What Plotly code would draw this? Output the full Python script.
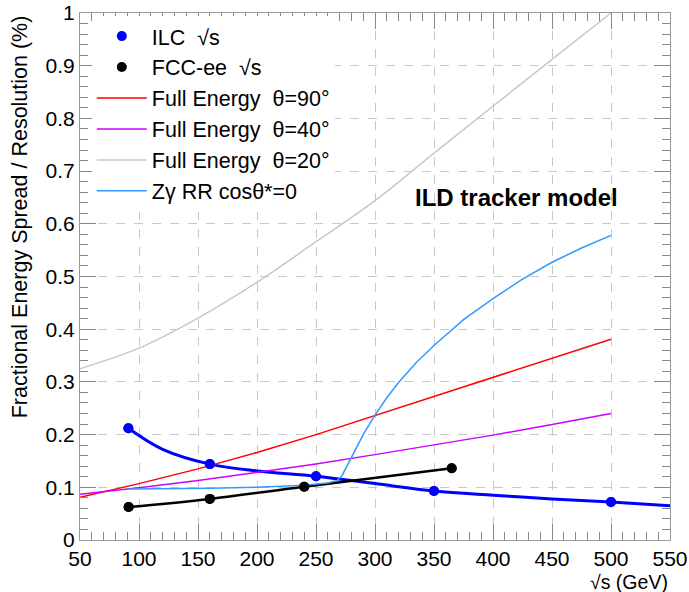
import plotly.graph_objects as go

# ---- data ----
ilc_x = [91, 160, 250, 350, 500]
ilc_y = [0.212, 0.144, 0.121, 0.093, 0.072]
ilc_curve_x = [91, 120, 160, 200, 250, 300, 350, 400, 450, 500, 550]
ilc_curve_y = [0.212, 0.172, 0.144, 0.131, 0.121, 0.107, 0.093, 0.085, 0.078, 0.072, 0.065]

fcc_x = [91.2, 160, 240, 365]
fcc_y = [0.0625, 0.078, 0.101, 0.136]

full_x = [50, 100, 150, 200, 250, 300, 350, 400, 450, 500]
red_y = [0.081, 0.107, 0.135, 0.166, 0.200, 0.236, 0.272, 0.308, 0.344, 0.381]
mag_y = [0.087, 0.099, 0.113, 0.128, 0.144, 0.162, 0.180, 0.199, 0.219, 0.240]
gray_y = [0.325, 0.364, 0.421, 0.489, 0.566, 0.644, 0.734, 0.823, 0.912, 1.0]

zg_x = [91, 120, 160, 200, 240, 260, 268, 272, 280, 290, 300, 310, 320, 335, 350,
        375, 400, 425, 450, 475, 500]
zg_y = [0.097, 0.097, 0.098, 0.100, 0.104, 0.108, 0.113, 0.122, 0.158, 0.200, 0.237,
        0.270, 0.299, 0.337, 0.369, 0.418, 0.458, 0.495, 0.527, 0.554, 0.578]

FONT = "Liberation Sans, Arial, Helvetica, sans-serif"

fig = go.Figure()

# curves (no legend)
fig.add_trace(go.Scatter(x=ilc_curve_x, y=ilc_curve_y, mode="lines",
                         line=dict(color="#0000ff", width=3, shape="spline"),
                         showlegend=False, hoverinfo="skip"))
fig.add_trace(go.Scatter(x=fcc_x, y=fcc_y, mode="lines",
                         line=dict(color="#000000", width=2.5, shape="spline"),
                         showlegend=False, hoverinfo="skip"))

# legend traces
fig.add_trace(go.Scatter(x=ilc_x, y=ilc_y, mode="markers", name="ILC  √s",
                         marker=dict(color="#0000ff", size=10), legendgroup="a"))
fig.add_trace(go.Scatter(x=fcc_x, y=fcc_y, mode="markers", name="FCC-ee  √s",
                         marker=dict(color="#000000", size=10), legendgroup="b"))
fig.add_trace(go.Scatter(x=full_x, y=red_y, mode="lines", name="Full Energy  θ=90°",
                         line=dict(color="#ff0000", width=1.5), legendgroup="c"))
fig.add_trace(go.Scatter(x=full_x, y=mag_y, mode="lines", name="Full Energy  θ=40°",
                         line=dict(color="#cc00ff", width=1.5), legendgroup="d"))
fig.add_trace(go.Scatter(x=full_x, y=gray_y, mode="lines", name="Full Energy  θ=20°",
                         line=dict(color="#c8c8c8", width=1.5, shape="spline"), legendgroup="e"))
fig.add_trace(go.Scatter(x=zg_x, y=zg_y, mode="lines", name="Zγ RR cosθ*=0",
                         line=dict(color="#3399ff", width=1.5),
                         legendgroup="f"))

# re-draw points on top of lines
fig.add_trace(go.Scatter(x=ilc_x, y=ilc_y, mode="markers",
                         marker=dict(color="#0000ff", size=10), showlegend=False))
fig.add_trace(go.Scatter(x=fcc_x, y=fcc_y, mode="markers",
                         marker=dict(color="#000000", size=10), showlegend=False))

axis_common = dict(
    showline=True, linecolor="#999999", linewidth=1, mirror="ticks",
    ticks="inside", ticklen=16, tickcolor="#888888", tickwidth=1,
    showgrid=True, gridcolor="#c8c8c8", griddash="dash", gridwidth=1,
    zeroline=False, automargin=False,
    tickfont=dict(family=FONT, size=21, color="#000000"),
)

fig.update_xaxes(range=[50, 550], dtick=50, tick0=50,
                 minor=dict(dtick=10, ticklen=8, tickcolor="#888888", ticks="inside", showgrid=False),
                 **axis_common)
fig.update_yaxes(range=[0, 1], dtick=0.1, tick0=0,
                 minor=dict(dtick=0.02, ticklen=8, tickcolor="#888888", ticks="inside", showgrid=False),
                 **axis_common)

fig.add_annotation(x=420, y=0.65, xref="x", yref="y", text="<b>ILD tracker model</b>",
                   showarrow=False, font=dict(family=FONT, size=24, color="#000000"),
                   xanchor="center", yanchor="middle")
fig.add_annotation(x=1, y=-0.079, xref="paper", yref="paper", text="√s (GeV)",
                   showarrow=False, font=dict(family=FONT, size=19.5, color="#000000"),
                   xanchor="right", yanchor="middle")
fig.add_annotation(x=-0.102, y=1, xref="paper", yref="paper",
                   text="Fractional Energy Spread / Resolution (%)", textangle=-90,
                   showarrow=False, font=dict(family=FONT, size=21.5, color="#000000"),
                   xanchor="center", yanchor="top")

fig.update_layout(
    width=689, height=592,
    margin=dict(l=80, r=19, t=13, b=52, autoexpand=False),
    paper_bgcolor="white", plot_bgcolor="white",
    showlegend=True,
    legend=dict(x=0.02, y=0.995, xanchor="left", yanchor="top",
                font=dict(family=FONT, size=21.5, color="#000000"),
                bgcolor="rgba(255,255,255,1)", borderwidth=0,
                tracegroupgap=0, itemwidth=50),
)

fig.write_html("out.html")
